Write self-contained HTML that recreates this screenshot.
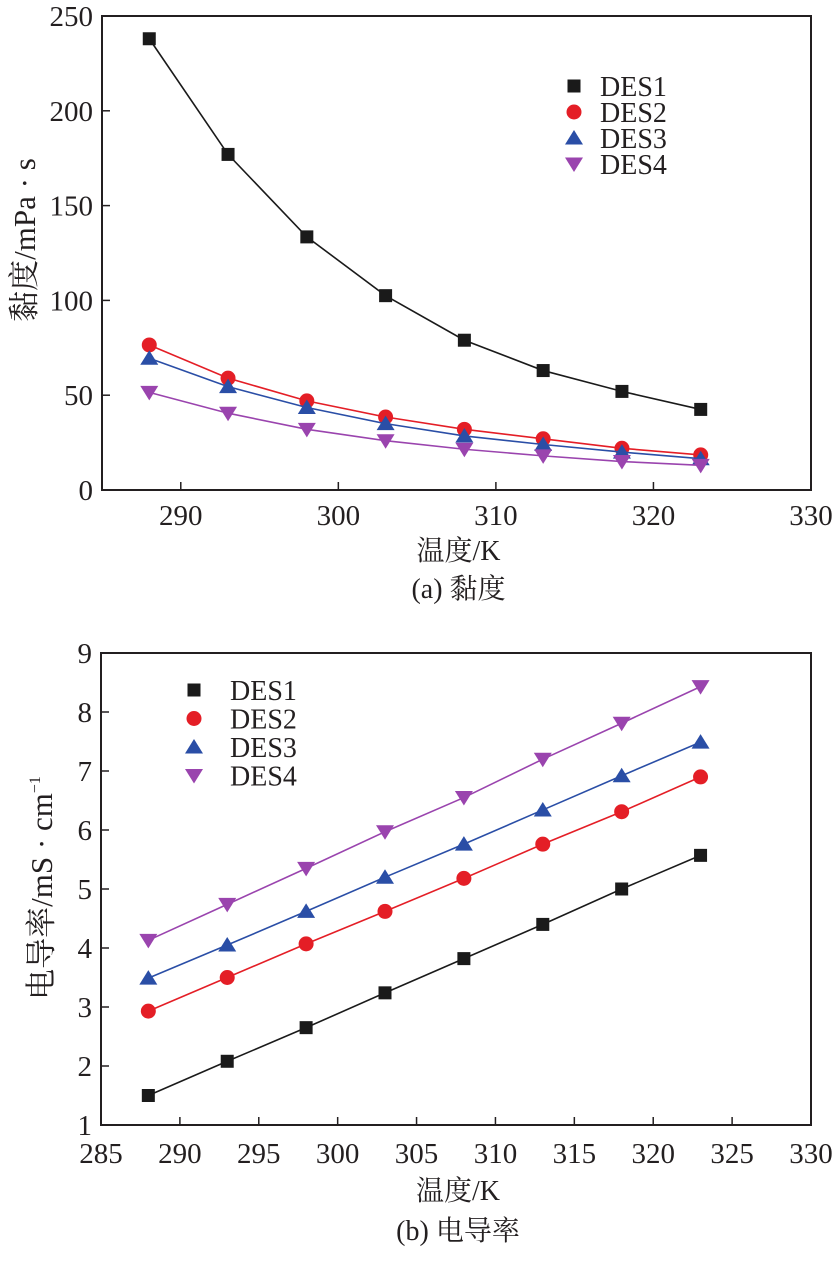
<!DOCTYPE html>
<html><head><meta charset="utf-8"><style>
body{margin:0;background:#fff;}
svg text{font-family:"Liberation Serif","Noto Serif CJK SC","Noto Sans CJK SC",serif;fill:#231f20;}
</style></head><body>
<svg width="836" height="1256" viewBox="0 0 836 1256">
<g id="chartA"></g>
<g id="chartB"></g>
</svg>
<script>
const temps=[288,293,298,303,308,313,318,323];
const seriesNames=["DES1","DES2","DES3","DES4"];
const viscDES1=[238,177,133.5,102.5,79,63,52,42.5];
const viscDES2=[76.5,59,47,38.5,32,27,22,18.5];
const viscDES3=[69.5,54.5,43.5,35,28.5,24,20,16.5];
const viscDES4=[51.5,40.5,32,26,21.5,18,15,13];
const condDES1=[1.5,2.08,2.65,3.24,3.82,4.4,5.0,5.57];
const condDES2=[2.93,3.5,4.07,4.62,5.18,5.76,6.31,6.9];
const condDES3=[3.49,4.05,4.62,5.2,5.76,6.34,6.92,7.49];
const condDES4=[4.13,4.74,5.35,5.97,6.55,7.2,7.81,8.43];
const xTicksA=[285,290,300,310,320,330];
const xLabelsA=["","290","300","310","320","330"];
const yTicksA=[0,50,100,150,200,250];
const xTicksB=[285,290,295,300,305,310,315,320,325,330];
const yTicksB=[1,2,3,4,5,6,7,8,9];
const colors=["#1a1a1a","#e41e26","#2a4ea6","#9a44ae"];
const shapes=["square","circle","up","down"];
const NS="http://www.w3.org/2000/svg";
function mk(parent,tag,attrs){const e=document.createElementNS(NS,tag);for(const k in attrs)e.setAttribute(k,attrs[k]);parent.appendChild(e);return e;}
function marker(g,shape,cx,cy,color,name){
  let e;
  if(shape==="square")e=mk(g,"rect",{x:cx-6.5,y:cy-6.5,width:13,height:13,fill:color});
  else if(shape==="circle")e=mk(g,"circle",{cx:cx,cy:cy,r:7.5,fill:color});
  else if(shape==="up")e=mk(g,"polygon",{points:`${cx},${cy-8} ${cx-9},${cy+6.5} ${cx+9},${cy+6.5}`,fill:color});
  else e=mk(g,"polygon",{points:`${cx},${cy+8} ${cx-9},${cy-6.5} ${cx+9},${cy-6.5}`,fill:color});
  
  
  return e;
}
function drawChart(g,cfg){
  const {L,R,T,B,xmin,xmax,ymin,ymax}=cfg;
  const sx=v=>L+(v-xmin)/(xmax-xmin)*(R-L);
  const sy=v=>B-(v-ymin)/(ymax-ymin)*(B-T);
  const frame=mk(g,"rect",{x:L,y:T,width:R-L,height:B-T,fill:"none",stroke:"#231f20","stroke-width":2});
  
  
  cfg.xTicks.forEach((v,i)=>{
    const x=sx(v);
    const t=mk(g,"line",{x1:x,y1:B,x2:x,y2:B-8,stroke:"#231f20","stroke-width":1.5});
    
    
    const lab=cfg.xLabels?cfg.xLabels[i]:String(v);
    if(lab){const tx=mk(g,"text",{x:x,y:B+cfg.tickDy,"text-anchor":"middle","font-size":29});tx.textContent=lab;
      
      }
  });
  cfg.yTicks.forEach(v=>{
    const y=sy(v);
    const t=mk(g,"line",{x1:L,y1:y,x2:L+8,y2:y,stroke:"#231f20","stroke-width":1.5});
    
    
    const tx=mk(g,"text",{x:L-9,y:y+10,"text-anchor":"end","font-size":29});tx.textContent=String(v);
    
    
  });
  cfg.series.forEach((vals,si)=>{
    const pts=vals.map((v,i)=>sx(temps[i])+","+sy(v)).join(" ");
    const pl=mk(g,"polyline",{points:pts,fill:"none",stroke:colors[si],"stroke-width":1.6});
    
    
    vals.forEach((v,i)=>marker(g,shapes[si],sx(temps[i]),sy(v),colors[si],'point-'+seriesNames[si].toLowerCase()));
  });
  seriesNames.forEach((n,si)=>{
    const y=cfg.legY+si*cfg.legDy;
    marker(g,shapes[si],cfg.legX,y,colors[si],'legend-marker-'+n.toLowerCase());
    const tx=mk(g,"text",{x:cfg.legTx,y:y+10,"font-size":28});tx.textContent=n;
    
    
  });
  const xt=mk(g,"text",{x:(L+R)/2+2,y:B+cfg.titleDy,"text-anchor":"middle","font-size":28});xt.textContent=cfg.xTitle;
  
  
  const yt=mk(g,"text",{x:0,y:0,"text-anchor":"middle","font-size":31,transform:`translate(${cfg.yTitleX},${cfg.yTitleY}) rotate(-90)`});
  yt.innerHTML=cfg.yTitle;
  
  
  const cap=mk(g,"text",{x:(L+R)/2+2,y:B+cfg.capDy,"text-anchor":"middle","font-size":28});cap.textContent=cfg.caption;
  
  
}
drawChart(document.getElementById("chartA"),{L:102,R:811,T:16,B:490,xmin:285,xmax:330,ymin:0,ymax:250,
  xTicks:xTicksA,xLabels:xLabelsA,yTicks:yTicksA,series:[viscDES1,viscDES2,viscDES3,viscDES4],
  tickDy:35,titleDy:70,capDy:108,
  legX:574,legTx:600,legY:86,legDy:26,xTitle:"温度/K",yTitle:"黏度/mPa&#160;·&#160;s",yTitleX:35,yTitleY:240,caption:"(a) 黏度"});
drawChart(document.getElementById("chartB"),{L:101,R:811,T:653,B:1125,xmin:285,xmax:330,ymin:1,ymax:9,
  xTicks:xTicksB,yTicks:yTicksB,series:[condDES1,condDES2,condDES3,condDES4],
  tickDy:38,titleDy:75,capDy:115,
  legX:194,legTx:230,legY:690,legDy:28.5,xTitle:"温度/K",yTitle:'电导率/mS&#160;·&#160;cm<tspan font-size="16" dy="-12">−1</tspan>',yTitleX:52,yTitleY:888,caption:"(b) 电导率"});
</script>
</body></html>
